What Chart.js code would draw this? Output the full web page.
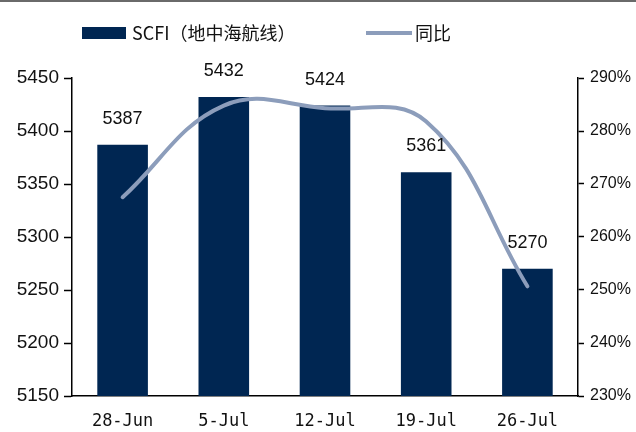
<!DOCTYPE html>
<html><head><meta charset="utf-8">
<script src="https://cdn.jsdelivr.net/npm/chart.js@4/dist/chart.umd.min.js"></script>
<style>
html,body{margin:0;padding:0;background:#fff;}
#wrap{position:relative;width:636px;height:432px;}
#topline{position:absolute;left:0;top:0;width:636px;height:2px;background:#6a6a6a;}
canvas{display:block;}
</style></head><body>
<div id="wrap"><div id="topline"></div><canvas id="c" width="636" height="432"></canvas></div>
<script>
const categories = ['28-Jun', '5-Jul', '12-Jul', '19-Jul', '26-Jul'];
const scfiValues = [5387, 5432, 5424, 5361, 5270];
const yoyValues = [2.675, 2.848, 2.843, 2.818, 2.507];
const leftTicks = [5150, 5200, 5250, 5300, 5350, 5400, 5450];
const rightTicks = [2.3, 2.4, 2.5, 2.6, 2.7, 2.8, 2.9];
const seriesNames = ['SCFI（地中海航线）', '同比'];

const BAR = '#002652';
const LINE = '#8c9dbb';
const numFont = '"Liberation Sans", Arial, sans-serif';
const monoFont = '"DejaVu Sans Mono", "Noto Sans CJK SC", monospace';
const cjkFont = '"Noto Sans CJK SC", sans-serif';

const labelPlugin = {
  id: 'labels',
  afterDatasetsDraw(chart) {
    const ctx = chart.ctx;
    const meta = chart.getDatasetMeta(1);
    ctx.save();
    ctx.font = '18px ' + numFont;
    ctx.fillStyle = '#111';
    ctx.textAlign = 'center';
    ctx.textBaseline = 'bottom';
    meta.data.forEach((bar, i) => {
      ctx.fillText(String(scfiValues[i]), bar.x, bar.y - 17);
    });
    ctx.restore();
  },
  afterDraw(chart) {
    const ctx = chart.ctx;
    ctx.save();
    ctx.fillStyle = BAR;
    ctx.fillRect(82, 27, 44, 12);
    ctx.font = '18px ' + cjkFont;
    ctx.fillStyle = '#111';
    ctx.textBaseline = 'middle';
    ctx.textAlign = 'left';
    ctx.fillText(seriesNames[0], 132, 33);
    ctx.strokeStyle = LINE;
    ctx.lineWidth = 4;
    ctx.beginPath();
    ctx.moveTo(366, 33);
    ctx.lineTo(412, 33);
    ctx.stroke();
    ctx.fillText(seriesNames[1], 415, 33);
    ctx.restore();
  }
};

new Chart(document.getElementById('c'), {
  data: {
    labels: categories,
    datasets: [
      {
        type: 'line', label: seriesNames[1], data: yoyValues, yAxisID: 'y2',
        borderColor: LINE, borderWidth: 4, pointRadius: 0, tension: 0.4,
        fill: false, order: 0, borderCapStyle: 'round'
      },
      {
        type: 'bar', label: seriesNames[0], data: scfiValues, yAxisID: 'y',
        backgroundColor: BAR, categoryPercentage: 1, barPercentage: 0.5, order: 1
      }
    ]
  },
  plugins: [labelPlugin],
  options: {
    responsive: false,
    animation: false,
    layout: { padding: { top: 78, left: 0, right: 0, bottom: 0 } },
    plugins: { legend: { display: false }, tooltip: { enabled: false } },
    scales: {
      x: {
        grid: { display: false },
        border: { color: '#000', width: 1.5 },
        ticks: { font: { family: monoFont, size: 17 }, color: '#111', padding: 7 },
        afterFit(s) { s.height = 36; }
      },
      y: {
        position: 'left', min: 5150, max: 5450,
        afterBuildTicks(s) { s.ticks = leftTicks.map(v => ({ value: v })); },
        grid: { drawOnChartArea: false, tickLength: 8, color: '#000', tickWidth: 1.5 },
        border: { color: '#000', width: 1.5 },
        ticks: { font: { family: numFont, size: 19 }, color: '#111', padding: 5,
          callback: v => String(v) },
        afterFit(s) { s.width = 72; }
      },
      y2: {
        position: 'right', min: 2.3, max: 2.9,
        afterBuildTicks(s) { s.ticks = rightTicks.map(v => ({ value: v })); },
        grid: { drawOnChartArea: false, tickLength: 6, color: '#000', tickWidth: 1.5 },
        border: { color: '#000', width: 1.5 },
        ticks: { font: { family: numFont, size: 16 }, color: '#111', padding: 6,
          callback: v => Math.round(v * 100) + '%' },
        afterFit(s) { s.width = 58; }
      }
    }
  }
});
</script>
</body></html>
